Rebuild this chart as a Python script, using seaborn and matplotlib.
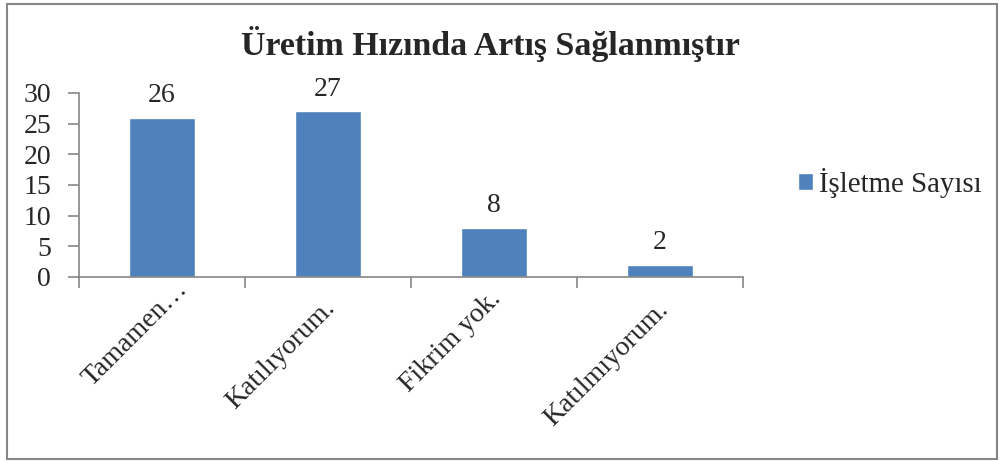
import matplotlib
matplotlib.use("Agg")
import matplotlib.pyplot as plt
import seaborn as sns
import numpy as np
from matplotlib.patches import Rectangle
from matplotlib.ticker import FixedLocator
from matplotlib.transforms import ScaledTranslation

categories = ["Tamamen…", "Katılıyorum.", "Fikrim yok.", "Katılmıyorum."]
values = [26, 27, 8, 2]
series_name = "İşletme Sayısı"
title = "Üretim Hızında Artış Sağlanmıştır"
yticks = [0, 5, 10, 15, 20, 25, 30]

sns.set_theme(style="white")
plt.rcParams["font.family"] = ["Liberation Serif", "DejaVu Serif"]

bar_color = "#4F81BD"
axis_color = "#868686"
fs = 20

fig = plt.figure(figsize=(10.01, 4.61), dpi=100)
ax = fig.add_axes([79/1001, 1 - 277/461, 664/1001, 184/461])

sns.barplot(x=categories, y=values, color=bar_color, width=0.4, saturation=1,
            ax=ax, label=series_name)
if ax.get_legend() is not None:
    ax.get_legend().remove()

ax.set_xlim(-0.5, len(categories) - 0.5)
ax.set_ylim(0, 30)
ax.set_yticks(yticks)
ax.set_yticklabels([str(t) for t in yticks], fontsize=fs)
ax.tick_params(axis="y", length=8, width=1.2, color=axis_color, pad=12, left=True)
ax.tick_params(axis="x", which="major", length=0, pad=25)
ax.xaxis.set_minor_locator(FixedLocator(np.arange(-0.5, len(categories), 1.0)))
ax.tick_params(axis="x", which="minor", length=8, width=1.2, color=axis_color, bottom=True)

# per-label offsets in pixels (dx, dy)
label_offsets = [(27, 22), (8, 3), (8, 12), (9, 1)]
for lab, (dx, dy) in zip(ax.get_xticklabels(), label_offsets):
    lab.set_rotation(45)
    lab.set_ha("right")
    lab.set_va("baseline")
    lab.set_rotation_mode("anchor")
    lab.set_fontsize(fs)
    lab.set_transform(lab.get_transform() +
                      ScaledTranslation(dx / 100, dy / 100, fig.dpi_scale_trans))

for s in ["top", "right"]:
    ax.spines[s].set_visible(False)
for s in ["left", "bottom"]:
    ax.spines[s].set_color(axis_color)
    ax.spines[s].set_linewidth(1.2)
ax.set_xlabel("")
ax.set_ylabel("")

for cont in ax.containers:
    ax.bar_label(cont, labels=[str(v) for v in values], padding=7, fontsize=fs)

handles, labels = ax.get_legend_handles_labels()
leg = fig.legend(handles[:1], [series_name], loc="center left",
                 bbox_to_anchor=(786/1001, 1 - 183/461), frameon=False,
                 fontsize=20.8, handlelength=0.55, handleheight=0.55, handletextpad=0.2,
                 borderaxespad=0)

fig.text(490/1001, 1 - 55/461, title, ha="center", va="baseline",
         fontsize=24.4, fontweight="bold")

fig.patches.append(Rectangle((7/1001, 2/461), (997-7)/1001, (457-2)/461,
                             transform=fig.transFigure, fill=False,
                             edgecolor=axis_color, linewidth=1.5))

fig.savefig("out.png", dpi=100, facecolor="white")
